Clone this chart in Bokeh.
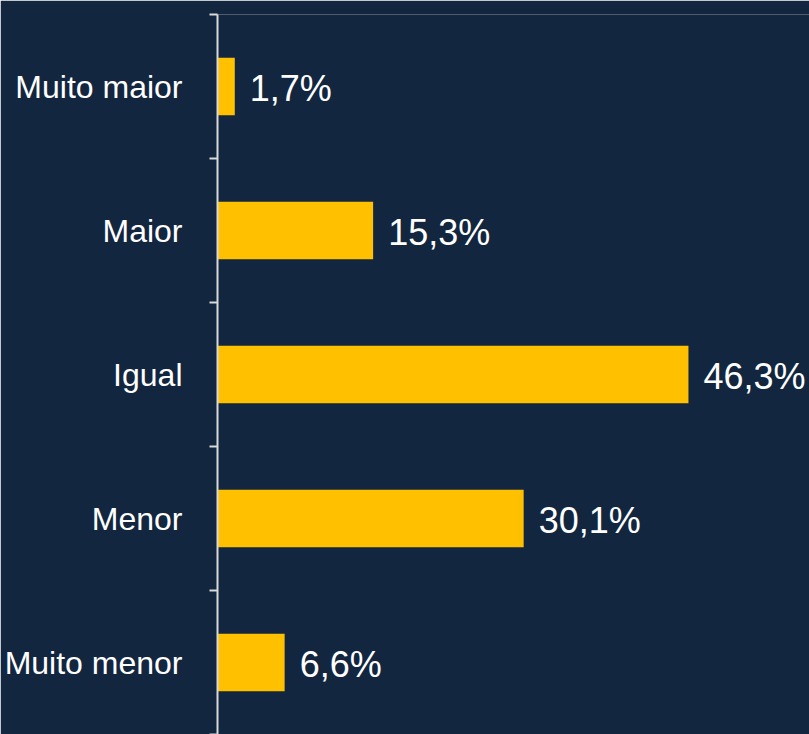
from bokeh.plotting import figure
from bokeh.models import ColumnDataSource, Range1d, FixedTicker
from bokeh.core.properties import value
from bokeh.embed import file_html
from bokeh.resources import INLINE

categories = ["Muito maior", "Maior", "Igual", "Menor", "Muito menor"]
values = [1.7, 15.3, 46.3, 30.1, 6.6]
value_labels = ["1,7%", "15,3%", "46,3%", "30,1%", "6,6%"]

BG = "#12263F"
BAR = "#FFC000"
FONT = "Liberation Sans"

centers = [i + 0.5 for i in range(len(categories))]
bounds = [float(i) for i in range(len(categories) + 1)]

src = ColumnDataSource(dict(y=centers, v=values, lab=value_labels))

p = figure(width=809, height=734, output_backend="svg", toolbar_location=None,
           x_range=Range1d(0, 58.2), y_range=Range1d(len(categories), 0),
           x_axis_location=None, background_fill_color=BG, border_fill_color=BG,
           min_border_left=217, min_border_right=0, min_border_top=14, min_border_bottom=0)
p.outline_line_color = None
p.grid.visible = False

p.hbar(y="y", right="v", left=0, height=0.4, source=src, fill_color=BAR, line_color=None)
p.text(x="v", y="y", text="lab", source=src, x_offset=15, y_offset=2, text_align="left",
       text_baseline="middle", text_color="white", text_font=value(FONT),
       text_font_size="36px")

ax = p.yaxis[0]
ax.ticker = FixedTicker(ticks=centers, minor_ticks=bounds)
ax.major_label_overrides = {c: lab for c, lab in zip(centers, categories)}
ax.major_tick_out = 0
ax.major_tick_in = 0
ax.minor_tick_out = 8
ax.minor_tick_in = 0
ax.minor_tick_line_color = "#D9D9D9"
ax.axis_line_color = "#D9D9D9"
ax.axis_line_width = 2
ax.minor_tick_line_width = 2
ax.major_label_standoff = 27
ax.major_label_text_color = "white"
ax.major_label_text_font = FONT
ax.major_label_text_font_size = "32px"

open("out.html", "w").write(file_html(p, INLINE))
